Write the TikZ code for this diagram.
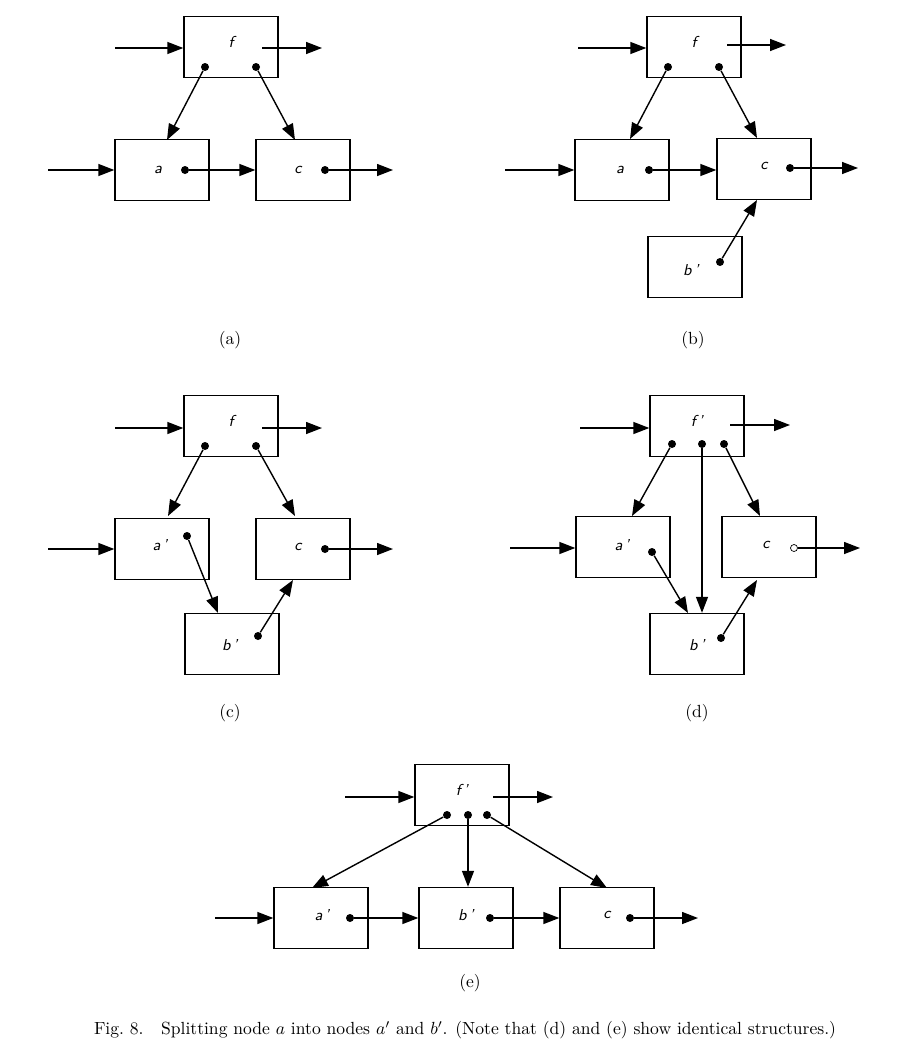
\documentclass[tikz,border=0pt]{standalone}
\usetikzlibrary{arrows.meta}
\tikzset{
  box/.style={draw,thick,minimum width=1.88cm,minimum height=1.22cm,inner sep=0pt},
  lbl/.style={font=\sffamily\itshape\small},
  arr/.style={thick,-{Triangle[length=3.2mm,width=2.4mm]}},
  dot/.style={fill,circle,inner sep=0pt,minimum size=1.6mm},
  odot/.style={draw,fill=white,circle,inner sep=0pt,minimum size=1.4mm}
}
\begin{document}
\begin{tikzpicture}[x=0.02cm,y=-0.02cm]
\useasboundingbox (0,0) rectangle (908,1058);
% (a)
\node[box] (fA) at (231,47) {};  \node[lbl] (fAl) at (231,42) {f};
\node[box] (aA) at (162,170) {}; \node[lbl] (aAl) at (158,170) {a};
\node[box] (cA) at (303,170) {}; \node[lbl] (cAl) at (298,170) {c};
\node[dot] (fA1) at (205,67) {}; \node[dot] (fA2) at (256,67) {};
\node[dot] (aA1) at (185,170) {}; \node[dot] (cA1) at (325,170) {};
\coordinate (inA1) at (115,48); \coordinate (inA2) at (48,170);
\coordinate (fAo) at (262,48); \coordinate (outA1) at (322,48); \coordinate (outA2) at (393,170);
\draw[arr] (inA1) -- (fA.west |- inA1);
\draw[arr] (fAo) -- (outA1);
\draw[arr] (inA2) -- (aA.west |- inA2);
\draw[arr] (aA1) -- (cA.west |- aA1);
\draw[arr] (cA1) -- (outA2);
\draw[arr] (fA1) -- (167,140);
\draw[arr] (fA2) -- (295,140);
\node (la) at (230,340) {(a)};
% (b)
\node[box] (fB) at (694,47) {};  \node[lbl] (fBl) at (694,42) {f};
\node[box] (aB) at (622,170) {}; \node[lbl] (aBl) at (620,170) {a};
\node[box] (cB) at (764,169) {}; \node[lbl] (cBl) at (764,166) {c};
\node[box] (bB) at (695,267) {}; \node[lbl] (bBl) at (691,270) {b\,'};
\node[dot] (fB1) at (668,67) {}; \node[dot] (fB2) at (719,67) {};
\node[dot] (aB1) at (649,170) {}; \node[dot] (cB1) at (790,168) {};
\node[dot] (bB1) at (720,262) {};
\coordinate (inB1) at (578,48); \coordinate (inB2) at (505,170);
\coordinate (fBo) at (727,45); \coordinate (outB1) at (786,45); \coordinate (outB2) at (858,168);
\draw[arr] (inB1) -- (fB.west |- inB1);
\draw[arr] (fBo) -- (outB1);
\draw[arr] (inB2) -- (aB.west |- inB2);
\draw[arr] (aB1) -- (cB.west |- aB1);
\draw[arr] (cB1) -- (outB2);
\draw[arr] (fB1) -- (630,139);
\draw[arr] (fB2) -- (757,138);
\draw[arr] (bB1) -- (757,200);
\node (lb) at (693,340) {(b)};
% (c)
\node[box] (fC) at (231,426) {};  \node[lbl] (fCl) at (231,421) {f};
\node[box] (aC) at (162,549) {}; \node[lbl] (aCl) at (160,545) {a\,'};
\node[box] (cC) at (303,549) {}; \node[lbl] (cCl) at (298,547) {c};
\node[box] (bC) at (232,644) {}; \node[lbl] (bCl) at (230,645) {b\,'};
\node[dot] (fC1) at (205,446) {}; \node[dot] (fC2) at (256,446) {};
\node[dot] (aC1) at (187,536) {}; \node[dot] (cC1) at (325,549) {};
\node[dot] (bC1) at (258,636) {};
\coordinate (inC1) at (115,428); \coordinate (inC2) at (48,549);
\coordinate (fCo) at (262,428); \coordinate (outC1) at (322,428); \coordinate (outC2) at (393,549);
\draw[arr] (inC1) -- (fC.west |- inC1);
\draw[arr] (fCo) -- (outC1);
\draw[arr] (inC2) -- (aC.west |- inC2);
\draw[arr] (cC1) -- (outC2);
\draw[arr] (fC1) -- (168,516);
\draw[arr] (fC2) -- (295,516);
\draw[arr] (aC1) -- (218,613);
\draw[arr] (bC1) -- (293,580);
\node (lc) at (230,713) {(c)};
% (d)
\node[box] (fD) at (697,426) {};  \node[lbl] (fDl) at (697,421) {f\,'};
\node[box] (aD) at (623,547) {}; \node[lbl] (aDl) at (622,545) {a\,'};
\node[box] (cD) at (769,547) {}; \node[lbl] (cDl) at (766,545) {c};
\node[box] (bD) at (697,644) {}; \node[lbl] (bDl) at (697,645) {b\,'};
\node[dot] (fD1) at (672,444) {}; \node[dot] (fD2) at (702,444) {};
\node[dot] (fD3) at (724,444) {};
\node[dot] (aD1) at (652,552) {}; \node[odot] (cD1) at (794,548) {};
\node[dot] (bD1) at (721,638) {};
\coordinate (inD1) at (580,428); \coordinate (inD2) at (510,548);
\coordinate (fDo) at (730,425); \coordinate (outD1) at (790,425); \coordinate (outD2) at (860,548);
\draw[arr] (inD1) -- (fD.west |- inD1);
\draw[arr] (fDo) -- (outD1);
\draw[arr] (inD2) -- (aD.west |- inD2);
\draw[arr] (cD1) -- (outD2);
\draw[arr] (fD1) -- (632,516);
\draw[arr] (fD2) -- (fD2 |- bD.north);
\draw[arr] (fD3) -- (760,516);
\draw[arr] (aD1) -- (688,613);
\draw[arr] (bD1) -- (757,580);
\node (ld) at (697,713) {(d)};
% (e)
\node[box] (fE) at (462,795) {};  \node[lbl] (fEl) at (462,790) {f\,'};
\node[box] (aE) at (321,918) {}; \node[lbl] (aEl) at (322,915) {a\,'};
\node[box] (bE) at (466,918) {}; \node[lbl] (bEl) at (466,915) {b\,'};
\node[box] (cE) at (607,918) {}; \node[lbl] (cEl) at (607,915) {c};
\node[dot] (fE1) at (447,815) {}; \node[dot] (fE2) at (468,815) {};
\node[dot] (fE3) at (487,815) {};
\node[dot] (aE1) at (350,918) {}; \node[dot] (bE1) at (490,918) {};
\node[dot] (cE1) at (630,918) {};
\coordinate (inE1) at (345,797); \coordinate (inE2) at (215,918);
\coordinate (fEo) at (493,797); \coordinate (outE1) at (553,797); \coordinate (outE2) at (698,918);
\draw[arr] (inE1) -- (fE.west |- inE1);
\draw[arr] (fEo) -- (outE1);
\draw[arr] (inE2) -- (aE.west |- inE2);
\draw[arr] (aE1) -- (bE.west |- aE1);
\draw[arr] (bE1) -- (cE.west |- bE1);
\draw[arr] (cE1) -- (outE2);
\draw[arr] (fE1) -- (312,888);
\draw[arr] (fE2) -- (fE2 |- bE.north);
\draw[arr] (fE3) -- (607,888);
\node (le) at (470,983) {(e)};
\node (cap) at (465,1030) {Fig.~8.\quad Splitting node $a$ into nodes $a'$ and $b'$. (Note that (d) and (e) show identical structures.)};
\end{tikzpicture}
\end{document}
